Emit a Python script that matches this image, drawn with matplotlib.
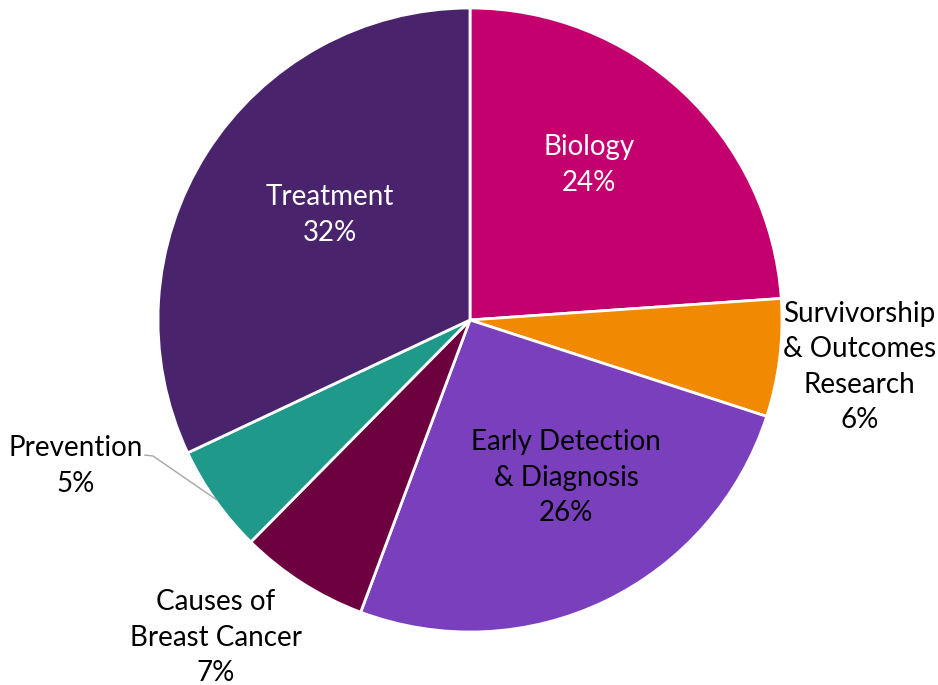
import numpy as np
import matplotlib.pyplot as plt

# research areas, clockwise from 12 o'clock
labels = ["Biology", "Survivorship\n& Outcomes\nResearch", "Early Detection\n& Diagnosis",
          "Causes of\nBreast Cancer", "Prevention", "Treatment"]
shares = [23.9, 6.1, 25.7, 6.7, 5.6, 32.0]     # slice sizes
pct_labels = [24, 6, 26, 7, 5, 32]              # rounded values printed on the chart
colors = ["#C4006E", "#F18A00", "#7A3FBD", "#6D003F", "#1F9A8A", "#4A236D"]
text_colors = ["white", "black", "black", "black", "black", "white"]

# label centres in pie-radius units
label_pos = [(0.381, 0.497), (1.248, -0.150), (0.308, -0.505),
             (-0.814, -1.018), (-1.263, -0.468), (-0.449, 0.337)]

plt.rcParams['font.family'] = ['Lato', 'DejaVu Sans']

fig = plt.figure(figsize=(9.38, 6.85), dpi=100)
ax = fig.add_axes([158 / 938, 53 / 685, 624 / 938, 624 / 685])

wedges, _ = ax.pie(shares, colors=colors, startangle=90, counterclock=False,
                   radius=1.0, wedgeprops=dict(edgecolor="white", linewidth=2))

for lab, v, (x, y), tc in zip(labels, pct_labels, label_pos, text_colors):
    ax.text(x, y, f"{lab}\n{v}%", ha="center", va="center", color=tc,
            fontsize=20, linespacing=1.45, clip_on=False)

#  leader line for Prevention
ax.plot([-1.042, -1.016, -0.811], [-0.433, -0.436, -0.577],
        color="#A6A6A6", linewidth=1, clip_on=False)

ax.set_xlim(-1, 1)
ax.set_ylim(-1, 1)
ax.set_aspect("equal")
ax.axis("off")

fig.savefig("out.png", dpi=100)
